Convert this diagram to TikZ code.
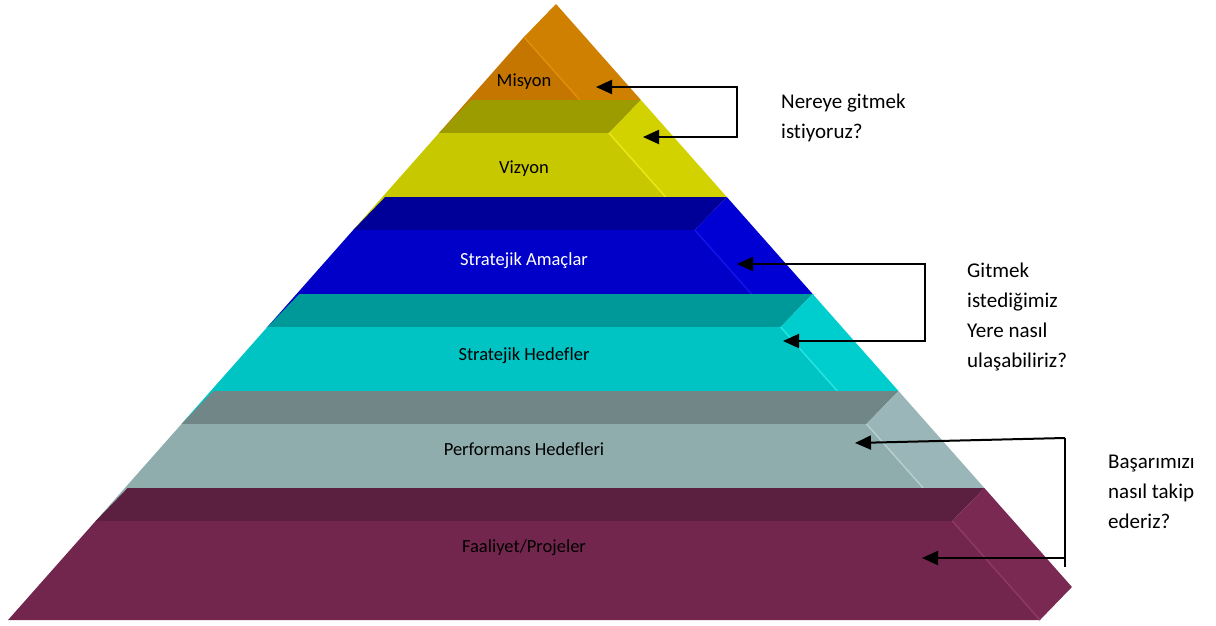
\documentclass[tikz,border=0pt]{standalone}
\usepackage{fontspec}
\setmainfont{Carlito}[Ligatures=NoCommon]
\usepackage{tikz}
\usetikzlibrary{arrows.meta}
\definecolor{misFront}{RGB}{196, 118, 0}
\definecolor{misSide}{RGB}{208, 128, 0}
\definecolor{misEdge}{RGB}{224, 142, 12}
\definecolor{vizTop}{RGB}{156, 156, 0}
\definecolor{vizFront}{RGB}{200, 200, 0}
\definecolor{vizSide}{RGB}{210, 210, 0}
\definecolor{vizEdge}{RGB}{232, 232, 24}
\definecolor{amaTop}{RGB}{0, 0, 153}
\definecolor{amaFront}{RGB}{0, 0, 200}
\definecolor{amaSide}{RGB}{0, 0, 212}
\definecolor{amaEdge}{RGB}{20, 20, 232}
\definecolor{hedTop}{RGB}{0, 153, 153}
\definecolor{hedFront}{RGB}{0, 196, 196}
\definecolor{hedSide}{RGB}{0, 206, 206}
\definecolor{hedEdge}{RGB}{40, 226, 226}
\definecolor{perTop}{RGB}{113, 135, 135}
\definecolor{perFront}{RGB}{143, 173, 173}
\definecolor{perSide}{RGB}{154, 182, 184}
\definecolor{perEdge}{RGB}{182, 206, 206}
\definecolor{faaTop}{RGB}{91, 31, 63}
\definecolor{faaFront}{RGB}{115, 38, 77}
\definecolor{faaSide}{RGB}{122, 42, 82}
\definecolor{faaEdge}{RGB}{142, 56, 100}

\begin{document}
\begin{tikzpicture}[x=1pt, y=-1pt,
   layerlabel/.style={font=\fontsize{18.5}{22}\selectfont, anchor=base, inner sep=0},
   question/.style={font=\fontsize{21}{30}\selectfont, align=left, anchor=base west,
                    inner sep=0},
   pointer/.style={-{Triangle[length=16pt, width=14pt]}, line width=2},
   twoway/.style={{Triangle[length=16pt, width=14pt]}-{Triangle[length=16pt, width=14pt]},
                  line width=2, line join=miter}
  ]
  \useasboundingbox (0, 0) rectangle (1216, 626);

  % apex
  \fill[misSide] (556, 4) -- ({556+0.885*96}, 100) -- ({524+0.885*63}, 100) -- (524, 37) -- cycle;
  \fill[misFront] (524, 37) -- ({524+0.885*96}, 133) -- ({524-0.885*96}, 133) -- cycle;
  \draw[misEdge, line width=1.5] (524, 37) -- ({524+0.885*63}, 100);

  \foreach \ya/\yb/\ct/\cf/\cs/\ce in {133/197/vizTop/vizFront/vizSide/vizEdge,
                                      230/295/amaTop/amaFront/amaSide/amaEdge,
                                      327/391/hedTop/hedFront/hedSide/hedEdge,
                                      424/488/perTop/perFront/perSide/perEdge} {
    \fill[\ct] ({524-0.885*(\ya-37)}, \ya) -- ({524+0.885*(\ya-37)}, \ya)
      -- ({556+0.885*(\ya-37)}, {\ya-33}) -- ({556-0.885*(\ya-37)}, {\ya-33}) -- cycle;
    \fill[\cs] ({524+0.885*(\ya-37)}, \ya) -- ({556+0.885*(\ya-37)}, {\ya-33})
      -- ({556+0.885*(\yb-4)}, \yb) -- ({524+0.885*(\yb-37)}, \yb) -- cycle;
    \fill[\cf] ({524-0.885*(\ya-37)}, \ya) -- ({524+0.885*(\ya-37)}, \ya)
      -- ({524+0.885*(\yb-4)}, {\yb+33}) -- ({524-0.885*(\yb-4)}, {\yb+33}) -- cycle;
    \draw[\ce, line width=1.5] ({524+0.885*(\ya-37)}, \ya) -- ({524+0.885*(\yb-37)}, \yb);
  }

  % base
  \fill[faaTop] ({524-0.885*484}, 521) -- ({524+0.885*484}, 521)
    -- ({556+0.885*484}, 488) -- ({556-0.885*484}, 488) -- cycle;
  \fill[faaSide] ({524+0.885*484}, 521) -- ({556+0.885*484}, 488)
    -- ({556+0.885*583}, 587) -- ({524+0.885*583}, 620) -- cycle;
  \fill[faaFront] ({524-0.885*484}, 521) -- ({524+0.885*484}, 521)
    -- ({524+0.885*583}, 620) -- ({524-0.885*583}, 620) -- cycle;
  \draw[faaEdge, line width=1.5] ({524+0.885*484}, 521) -- ({524+0.885*583}, 620);

  \node (mis) at (524, 87) [layerlabel] {Misyon};
  \node (viz) at (524, 173) [layerlabel] {Vizyon};
  \node (ama) at (524, 265) [layerlabel, text=white] {Stratejik Amaçlar};
  \node (hed) at (524, 360) [layerlabel] {Stratejik Hedefler};
  \node (per) at (524, 455) [layerlabel] {Performans Hedefleri};
  \node (faa) at (524, 552) [layerlabel] {Faaliyet/Projeler};

  \node (nereye) at (781, 139) [question] {Nereye gitmek\\istiyoruz?};
  \node (nasil) at (967, 367) [question] {Gitmek\\istediğimiz\\Yere nasıl\\ulaşabiliriz?};
  \node (takip) at (1108, 528) [question] {Başarımızı\\nasıl takip\\ederiz?};

  \coordinate (misTip) at (596, 87);
  \coordinate (vizTip) at (643, 137);
  \coordinate (misBend) at (737, 87);
  \coordinate (vizBend) at (737, 137);
  \coordinate (amaTip) at (737, 264);
  \coordinate (hedTip) at (783, 341);
  \coordinate (amaBend) at (925, 264);
  \coordinate (hedBend) at (925, 341);
  \coordinate (perTip) at (855, 443);
  \coordinate (faaTip) at (922, 558);
  \coordinate (perBend) at (1065, 438);
  \coordinate (faaBend) at (1065, 558);
  \coordinate (takipEnd) at (1065, 567);

  \draw[twoway] (misTip) -- (misBend) -- (vizBend) -- (vizTip);
  \draw[twoway] (amaTip) -- (amaBend) -- (hedBend) -- (hedTip);
  \draw[line width=2] (perBend) -- (takipEnd);
  \foreach \B/\E in {perBend/perTip, faaBend/faaTip} {
    \draw[pointer] (\B) -- (\E);
  }

\end{tikzpicture}
\end{document}
